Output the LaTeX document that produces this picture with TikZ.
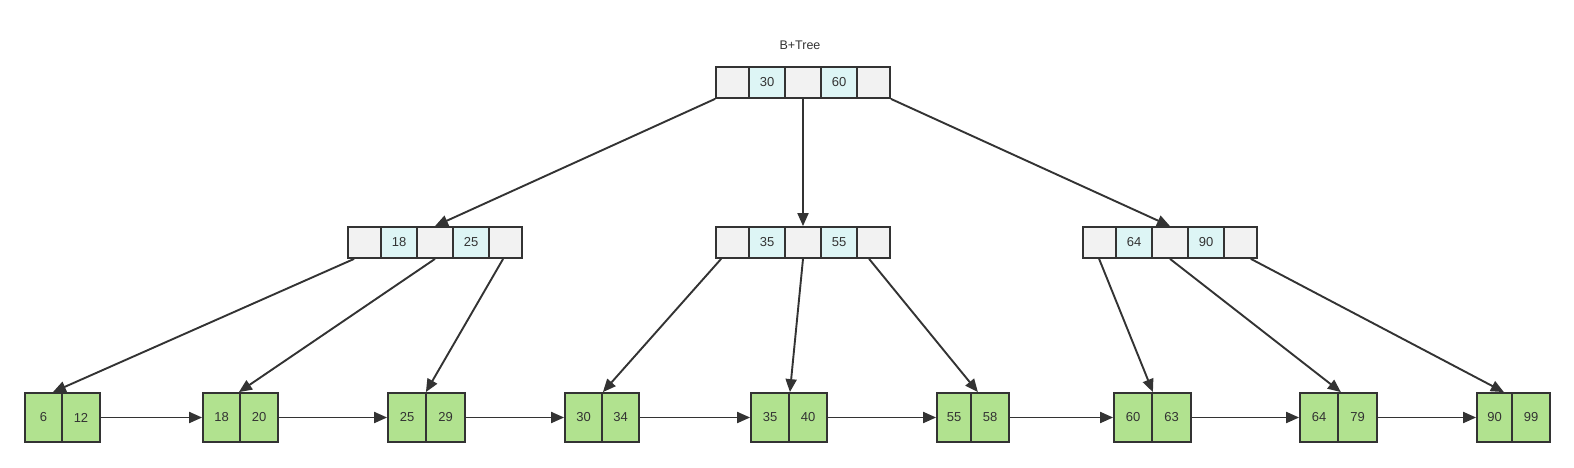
\documentclass[tikz,border=0pt]{standalone}
\usepackage{fontspec}
\setmainfont{Liberation Sans}
\usetikzlibrary{arrows.meta,calc}

\definecolor{edgegray}{HTML}{333333}
\definecolor{ptrfill}{HTML}{F2F2F2}
\definecolor{keyfill}{HTML}{DDF5F5}
\definecolor{leaffill}{HTML}{B1E28F}

\begin{document}
\begin{tikzpicture}[x=1pt,y=1pt,
    cell/.style={draw=edgegray, line width=1.8pt, inner sep=0pt,
      minimum height=31pt, font=\fontsize{13}{13}\selectfont, text=edgegray},
    ptrcell/.style={cell, fill=ptrfill},
    keycell/.style={cell, fill=keyfill},
    leafcell/.style={cell, fill=leaffill, minimum height=49pt},
    link/.style={draw=edgegray, line width=1.9pt,
      -{Triangle[length=13pt,width=11pt]}}]

    % Canvas
    \useasboundingbox (0,0) rectangle (1574,467);

    % Title
    \node[font=\fontsize{12.5}{12.5}\selectfont, text=edgegray] (title) at (800,421.5) {B+Tree};

    % Inner nodes: five cells each, keys in cells 2 and 4
    \foreach \nm/\x/\ka/\kb/\y in {R/716/30/60/384.5, A/348/18/25/224.5,
        B/716/35/55/224.5, C/1083/64/90/224.5} {
      \node[ptrcell, minimum width=33pt] (\nm1) at (\x+16.5,\y) {};
      \node[keycell, minimum width=36pt] (\nm2) at (\x+51,\y) {\ka};
      \node[ptrcell, minimum width=36pt] (\nm3) at (\x+87,\y) {};
      \node[keycell, minimum width=36pt] (\nm4) at (\x+123,\y) {\kb};
      \node[ptrcell, minimum width=33pt] (\nm5) at (\x+157.5,\y) {};
    }

    % Leaf nodes: left edge, divider, right edge
    \foreach \n/\l/\d/\r/\ka/\kb in {1/25/62/100/6/12, 2/203/240/278/18/20,
        3/388/426/465/25/29, 4/565/602/639/30/34, 5/751/789/827/35/40,
        6/937/971/1009/55/58, 7/1114/1152/1191/60/63,
        8/1300/1338/1377/64/79, 9/1477/1512/1550/90/99} {
      \pgfmathsetmacro\wa{\d-\l}
      \pgfmathsetmacro\wb{\r-\d}
      \node[leafcell, minimum width=\wa pt] (l\n a) at ({(\l+\d)/2},49.5) {\ka};
      \node[leafcell, minimum width=\wb pt] (l\n b) at ({(\d+\r)/2},49.5) {\kb};
    }

    % Root to inner nodes
    \draw[link] (R1.south west) -- (A3.north);
    \draw[link] (R3.south) -- (B3.north);
    \draw[link] (R5.south east) -- (C3.north);

    % Inner nodes to leaves
    \draw[link] ([xshift=7pt]A1.south west) -- ([xshift=-10pt]l1a.north east);
    \draw[link] (A3.south) -- ([xshift=-2pt]l2a.north east);
    \draw[link] ([xshift=15pt]A5.south west) -- ([xshift=-1pt]l3a.north east);

    \draw[link] ([xshift=6pt]B1.south west) -- (l4a.north east);
    \draw[link] (B3.south) -- (l5a.north east);
    \draw[link] ([xshift=13pt]B5.south west) -- ([xshift=6pt]l6a.north east);

    \draw[link] ([xshift=17pt]C1.south west) -- (l7a.north east);
    \draw[link] (C3.south) -- ([xshift=2pt]l8a.north east);
    \draw[link] ([xshift=-7pt]C5.south east) -- ([xshift=-9pt]l9a.north east);

    % Leaf chain
    \foreach \n [evaluate=\n as \m using int(\n+1)] in {1,...,8} {
      \draw[link] (l\n b.east) -- (l\m a.west);
    }
\end{tikzpicture}
\end{document}
